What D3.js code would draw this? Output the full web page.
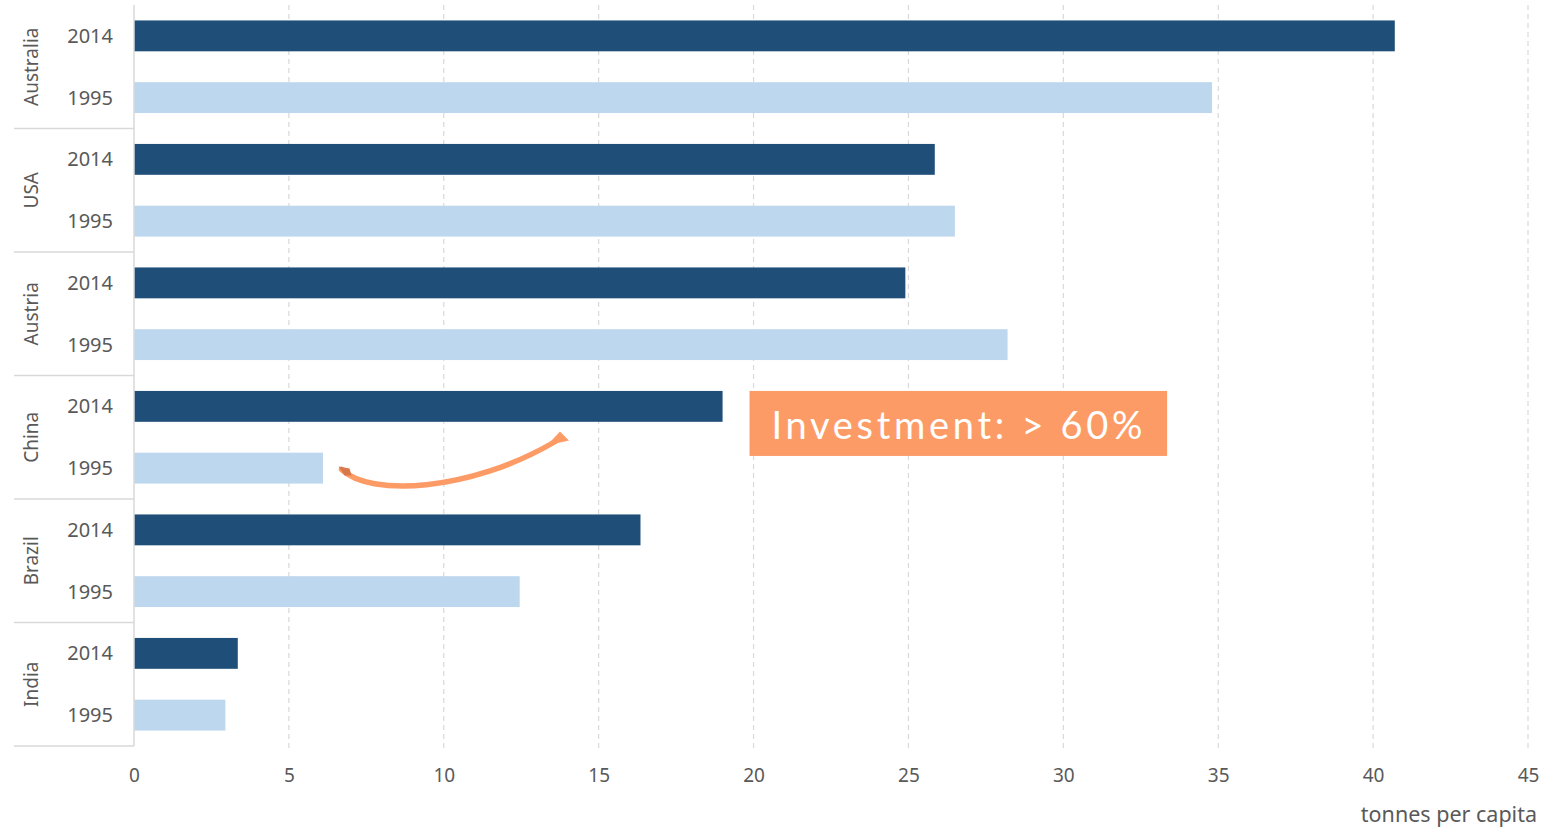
<!DOCTYPE html>
<html><head><meta charset="utf-8">
<script src="https://cdn.jsdelivr.net/npm/d3@7"></script>
<style>body{margin:0;background:#fff;}svg{display:block;font-family:"Noto Sans",sans-serif;}</style>
</head><body><svg id="c" width="1550" height="827"></svg>
<script>
const countries = ["Australia","USA","Austria","China","Brazil","India"];
const years = ["2014","1995"];
const values2014 = [40.7, 25.85, 24.9, 19.0, 16.35, 3.35];
const values1995 = [34.8, 26.5, 28.2, 6.1, 12.45, 2.95];
const xTicks = [0,5,10,15,20,25,30,35,40,45];
const axisTitle = "tonnes per capita";
const annotationText = "Investment: > 60%";

(function(){
const colors = {"2014":"#1f4e79","1995":"#bdd7ee"};
const svg = d3.select("#c");
const mLeft=134, mRight=1528, mTop=5, mBottom=746;
const x = d3.scaleLinear().domain([0,45]).range([mLeft,mRight]);
const rows = [];
countries.forEach((c,i)=>{rows.push({country:c,year:"2014",v:values2014[i]});rows.push({country:c,year:"1995",v:values1995[i]});});
const yGroup = d3.scaleBand().domain(countries).range([mTop,mBottom]);
const yInner = d3.scaleBand().domain(years).range([0,yGroup.bandwidth()]).paddingInner(0.5).paddingOuter(0.25);
const grid="#d9d9d9", txt="#595959";

// gridlines
svg.append("g").selectAll("line").data(xTicks.filter(d=>d>0)).join("line")
  .attr("x1",d=>x(d)).attr("x2",d=>x(d)).attr("y1",mTop).attr("y2",mBottom+4)
  .attr("stroke",grid).attr("stroke-width",1.2).attr("stroke-dasharray","5,4");

// bars
svg.append("g").selectAll("rect").data(rows).join("rect")
  .attr("x",x(0)).attr("y",d=>yGroup(d.country)+yInner(d.year))
  .attr("width",d=>x(d.v)-x(0)).attr("height",yInner.bandwidth())
  .attr("fill",d=>colors[d.year]);

// axis line & group separators
svg.append("line").attr("x1",mLeft).attr("x2",mLeft).attr("y1",mTop).attr("y2",mBottom).attr("stroke",grid).attr("stroke-width",1.5);
svg.append("g").selectAll("line").data(countries.slice(1).map(c=>yGroup(c)).concat([mBottom])).join("line")
  .attr("x1",14).attr("x2",mLeft).attr("y1",d=>d).attr("y2",d=>d).attr("stroke",grid).attr("stroke-width",1.5);

// year labels
svg.append("g").selectAll("text").data(rows).join("text")
  .attr("x",113).attr("y",d=>yGroup(d.country)+yInner(d.year)+yInner.bandwidth()/2)
  .attr("dy","0.35em").attr("text-anchor","end").attr("fill",txt).attr("font-size",20).text(d=>d.year);

// country labels
svg.append("g").selectAll("text").data(countries).join("text")
  .attr("transform",d=>`translate(31,${yGroup(d)+yGroup.bandwidth()/2}) rotate(-90)`)
  .attr("dy","0.35em").attr("text-anchor","middle").attr("fill",txt).attr("font-size",19).text(d=>d);

// x axis
const ax = svg.append("g").attr("transform",`translate(0,${mBottom})`)
  .call(d3.axisBottom(x).tickValues(xTicks).tickSize(0).tickPadding(23));
ax.select(".domain").remove();
ax.selectAll("text").attr("fill",txt).attr("font-size",19).attr("font-family","Noto Sans");
svg.append("text").attr("x",1537).attr("y",822).attr("text-anchor","end").attr("fill",txt).attr("font-size",21.5).text(axisTitle);

// annotation box
const chinaTop = yGroup("China")+yInner("2014");
const bx0 = x(19.87), bx1 = x(33.35);
svg.append("rect").attr("x",bx0).attr("y",chinaTop).attr("width",bx1-bx0).attr("height",65).attr("fill","#fd9b66");
svg.append("text").attr("x",bx0+22).attr("y",chinaTop+48).attr("fill","#fff").attr("font-size",38)
  .attr("font-family","Lato, 'Open Sans', sans-serif").attr("textLength",371).attr("lengthAdjust","spacing")
  .style("white-space","pre").text(annotationText);

// curved arrow
const cy = yGroup("China");
const p0=[x(6.7), cy+94], c1=[x(7.6), cy+121], c2=[x(10.8), cy+117], p1=[x(13.6), cy+66];
const arrow = svg.append("g");
arrow.append("path").attr("d",`M${p0} C${c1} ${c2} ${p1}`).attr("fill","none").attr("stroke","#fd9b66").attr("stroke-width",5.5).attr("stroke-linecap","round");
arrow.append("path").attr("d",`M${p0[0]-3},${p0[1]-3} L${p0[0]+8},${p0[1]-1} L${p0[0]+10},${p0[1]+6} L${p0[0]+3},${p0[1]+6} Z`).attr("fill","#d9784a");
const tip=[x(13.75), cy+56];
arrow.append("path").attr("d",`M${tip[0]},${tip[1]} L${tip[0]+9},${tip[1]+9} L${tip[0]-13},${tip[1]+14} Z`).attr("fill","#fd9b66");
})();
</script></body></html>
